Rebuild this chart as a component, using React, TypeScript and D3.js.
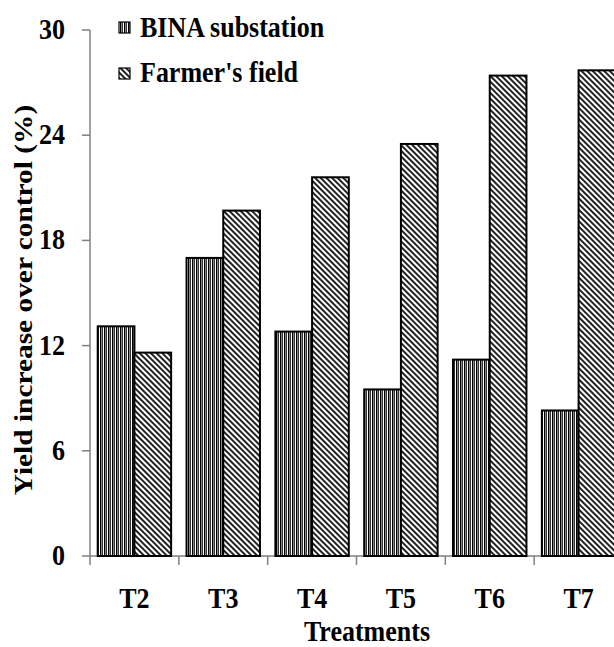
import React from 'react';
import * as d3 from 'd3';

const WIDTH = 614;
const HEIGHT = 647;

const MARGIN = { top: 30, right: -9, bottom: 91, left: 90 };

const treatments = ['T2', 'T3', 'T4', 'T5', 'T6', 'T7'];
const seriesNames = ['BINA substation', "Farmer's field"];
const binaValues = [13.1, 17.0, 12.8, 9.5, 11.2, 8.3];
const farmerValues = [11.6, 19.7, 21.6, 23.5, 27.4, 27.7];
const yTicks = [0, 6, 12, 18, 24, 30];

const FONT = '"Liberation Serif", "Times New Roman", serif';
const FS = 26;
// the original figure is a bit taller than wide, so the glyphs are stretched vertically
const STRETCH = 1.13;

type LabelProps = {
  x: number;
  y: number;
  anchor?: 'start' | 'middle' | 'end';
  rotate?: number;
  children: React.ReactNode;
};

const Label = ({ x, y, anchor = 'start', rotate = 0, children }: LabelProps) => (
  <text
    transform={`translate(${x},${y}) scale(1,${STRETCH}) rotate(${rotate})`}
    textAnchor={anchor}
    style={{ fontFamily: FONT, fontSize: FS, fontWeight: 'bold' }}
    fill="#000"
  >
    {children}
  </text>
);

export default function App() {
  const x = d3.scaleBand<string>()
    .domain(treatments)
    .range([MARGIN.left, WIDTH - MARGIN.right])
    .paddingInner(0)
    .paddingOuter(0);

  const inner = d3.scaleBand<string>()
    .domain(seriesNames)
    .range([0, x.bandwidth()])
    .paddingInner(0)
    .paddingOuter(0.21);

  const y = d3.scaleLinear()
    .domain([0, 30])
    .range([HEIGHT - MARGIN.bottom, MARGIN.top]);

  const series = [
    { name: seriesNames[0], values: binaValues, fill: 'url(#vstripe)' },
    { name: seriesNames[1], values: farmerValues, fill: 'url(#dstripe)' },
  ];

  const y0 = y(0);
  const axisColor = '#808080';

  return (
    <svg
      width={WIDTH}
      height={HEIGHT}
      style={{ position: 'absolute', left: 0, top: 0, background: '#fff' }}
    >
      <defs>
        <pattern id="vstripe" patternUnits="userSpaceOnUse" width="4" height="4">
          <rect width="4" height="4" fill="#fff" />
          <rect x="0" width="1" height="4" fill="#000" />
          <rect x="1" width="1" height="4" fill="#888" />
          <rect x="2" width="1" height="4" fill="#333" />
        </pattern>
        <pattern id="dstripe" patternUnits="userSpaceOnUse" width="4" height="4"
          patternTransform="rotate(-45)">
          <rect width="4" height="4" fill="#fff" />
          <rect x="0" width="2" height="4" fill="#222" />
        </pattern>
      </defs>

      {/* y axis */}
      <line x1={MARGIN.left} x2={MARGIN.left} y1={y(30)} y2={y0} stroke={axisColor} strokeWidth={1.5} />
      {yTicks.map(t => (
        <g key={t}>
          <line x1={MARGIN.left - 8} x2={MARGIN.left} y1={y(t)} y2={y(t)} stroke={axisColor} strokeWidth={1.5} />
          <Label x={65} y={y(t) + 9} anchor="end">{t}</Label>
        </g>
      ))}

      {/* x axis */}
      <line x1={MARGIN.left} x2={WIDTH} y1={y0} y2={y0} stroke={axisColor} strokeWidth={1.5} />
      {treatments.map(t => (
        <g key={t}>
          <line x1={x(t)!} x2={x(t)!} y1={y0} y2={y0 + 9} stroke={axisColor} strokeWidth={1.5} />
          <Label x={x(t)! + x.bandwidth() / 2} y={608} anchor="middle">{t}</Label>
        </g>
      ))}

      {/* bars */}
      {series.map(s => (
        <g key={s.name}>
          {s.values.map((v, i) => (
            <rect
              key={i}
              x={x(treatments[i])! + inner(s.name)!}
              y={y(v)}
              width={inner.bandwidth()}
              height={y0 - y(v)}
              fill={s.fill}
              stroke="#000"
              strokeWidth={2}
            />
          ))}
        </g>
      ))}

      {/* axis titles */}
      <Label x={367} y={641} anchor="middle">Treatments</Label>
      <Label x={32} y={300} anchor="middle" rotate={-90}>Yield increase over control (%)</Label>

      {/* legend */}
      {series.map((s, i) => (
        <g key={s.name}>
          <rect x={119} y={22 + i * 46} width={11} height={11} fill={s.fill} stroke="#000" strokeWidth={1.2} />
          <Label x={140} y={37 + i * 45}>{s.name}</Label>
        </g>
      ))}
    </svg>
  );
}
